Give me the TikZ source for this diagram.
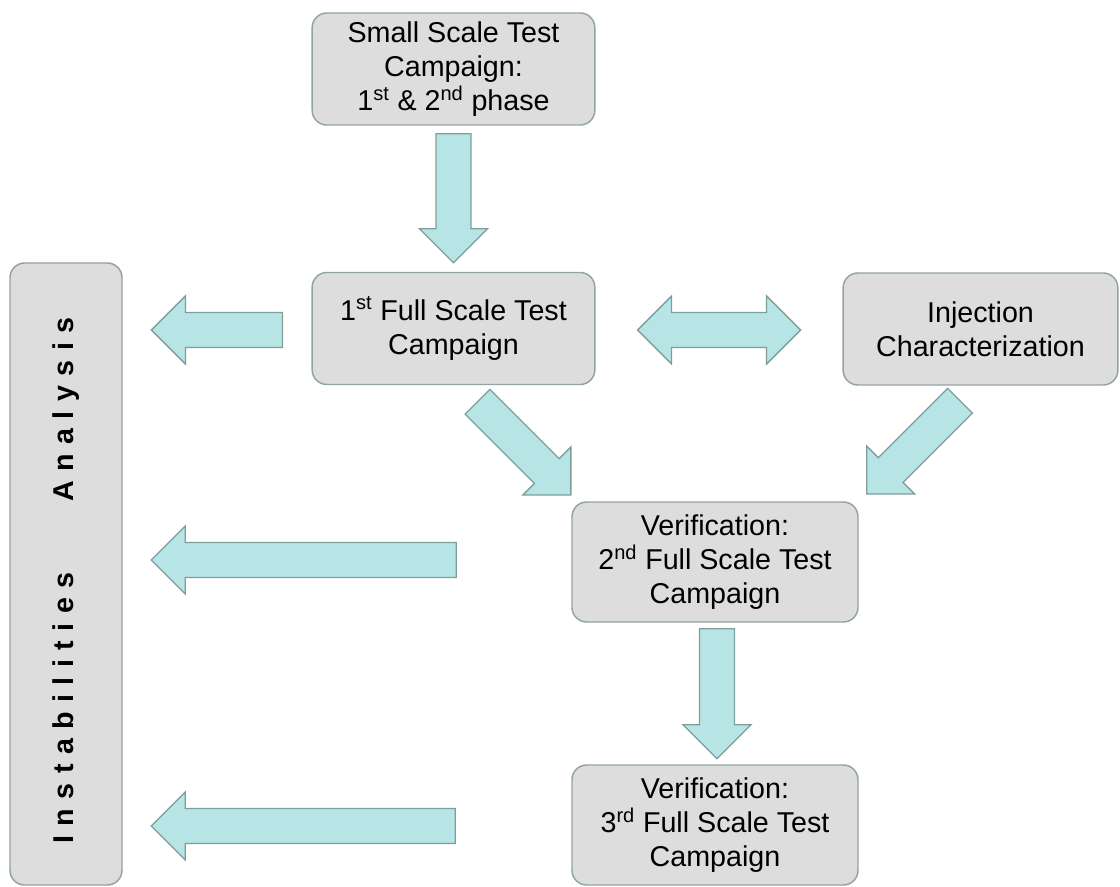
\documentclass[tikz,border=0pt]{standalone}
\usepackage{fontspec}
\setmainfont{Liberation Sans}
\usetikzlibrary{calc}
\definecolor{boxgray}{RGB}{221,221,221}
\definecolor{boxedge}{RGB}{146,164,162}
\definecolor{flowcyan}{RGB}{183,228,228}
\definecolor{flowedge}{RGB}{126,158,156}

% fat arrow: tail point, direction (deg, y runs down), total length
\newcommand{\flowarrow}[3]{%
    \draw[flow] #1 -- ++({#2+90}:17.5) -- ++(#2:{#3-34}) -- ++({#2+90}:16.5)
        -- ++({#2-45}:{34*sqrt(2)}) -- ++({#2-135}:{34*sqrt(2)})
        -- ++({#2+90}:16.5) -- ++({#2+180}:{#3-34}) -- cycle;}
% fat arrow with two heads: left tip, total length
\newcommand{\flowboth}[2]{%
    \draw[flow] #1 -- ++(34,-34) -- ++(0,16.5) -- ++({#2-68},0) -- ++(0,-16.5)
        -- ++(34,34) -- ++(-34,34) -- ++(0,-16.5) -- ++({68-#2},0)
        -- ++(0,16.5) -- cycle;}

\begin{document}
\begin{tikzpicture}[x=0.75pt, y=-0.75pt,
    font=\fontsize{21.5}{25.5}\selectfont,
    stage/.style={
        draw=boxedge, line width=1.1pt, fill=boxgray, rounded corners=11pt,
        align=center, inner sep=2pt,
        minimum width=212pt, minimum height=84pt
    },
    flow/.style={draw=flowedge, fill=flowcyan, line width=1pt, line join=miter},
]
\useasboundingbox (0,0) rectangle (1120,887);

% ================= boxes =================
\node[stage] (small) at (453.5,69)
    {Small Scale Test\\Campaign:\\1\textsuperscript{st} \& 2\textsuperscript{nd} phase};
\node[stage] (fs1) at (453.5,328.5)
    {1\textsuperscript{st} Full Scale Test\\Campaign};
\node[stage, minimum width=206pt] (inj) at (980.5,329)
    {Injection\\Characterization};
\node[stage, minimum width=214.5pt, minimum height=90pt] (ver2) at (715,562)
    {Verification:\\2\textsuperscript{nd} Full Scale Test\\Campaign};
\node[stage, minimum width=214.5pt, minimum height=90pt] (ver3) at (715,825)
    {Verification:\\3\textsuperscript{rd} Full Scale Test\\Campaign};
\node[stage, rotate=90, minimum width=466.5pt, minimum height=84pt,
      font=\fontsize{21.5}{25.5}\selectfont\bfseries\addfontfeatures{LetterSpace=33}]
    (instab) at (66,574) {\mbox{Instabilities\hspace{40pt} Analysis\hspace{10pt}}};

% ================= arrows =================
\flowarrow{($(small.south)+(0,8)$)}{90}{129}
\flowarrow{($(ver2.south)+(2,6)$)}{90}{130}
\flowarrow{($(fs1.south)+(24,16.5)$)}{45}{132}
\flowarrow{($(inj.south)+(-20.5,15)$)}{135}{132}
\flowboth{($(fs1.east)+(42,1.5)$)}{163}

\flowarrow{($(fs1.west)+(-29,1.5)$)}{180}{131}
\flowarrow{($(ver2.west)+(-115,-2)$)}{180}{305}
\flowarrow{($(ver3.west)+(-116,1)$)}{180}{304}

\end{tikzpicture}
\end{document}
